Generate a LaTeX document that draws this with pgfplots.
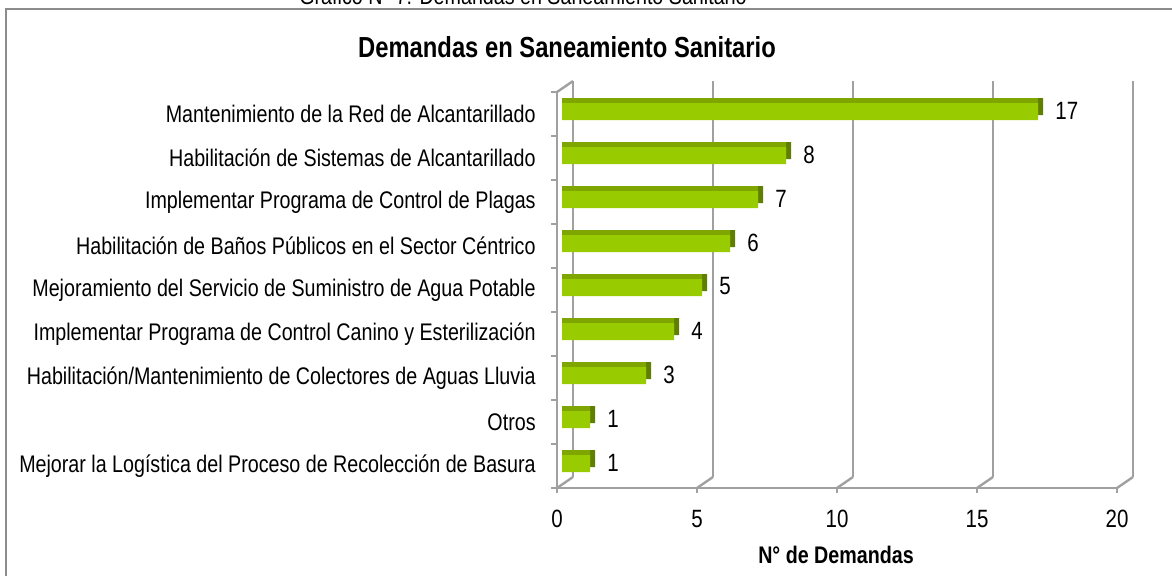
\documentclass[border=0pt]{standalone}
\usepackage{fontspec}
\setmainfont{Liberation Sans}[FakeStretch=0.82]
\usepackage{pgfplots}
\pgfplotsset{compat=1.18}
\definecolor{barfront}{HTML}{99CC00}
\definecolor{bartop}{HTML}{7FA600}
\definecolor{barside}{HTML}{5F7F00}
\definecolor{gridc}{HTML}{A0A0A0}
\definecolor{framec}{HTML}{8C8C8C}
\begin{document}
\begin{tikzpicture}
\useasboundingbox (0,0) rectangle (586pt,287.5pt);
\draw[framec, line width=1pt] (3pt,-20pt) -- (3pt,283pt) -- (600pt,283pt);
\node[anchor=base, inner sep=0pt, font=\fontsize{12}{14}\selectfont] at (261.5pt,285.5pt) {Gráfico N° 7: Demandas en Saneamiento Sanitario};
\node[anchor=base, inner sep=0pt, font=\bfseries\fontsize{14.5}{16}\selectfont] at (283.5pt,259pt) {Demandas en Saneamiento Sanitario};
\node[inner sep=0pt, font=\bfseries\fontsize{12}{14}\selectfont] at (418pt,10pt) {N° de Demandas};
\begin{axis}[
 at={(278.5pt,43.5pt)}, anchor=south west,
 scale only axis, width=280pt, height=198pt,
 xmin=0, xmax=20, ymin=-0.5, ymax=8.5,
 axis line style={draw=none},
 major tick length=0pt,
 xtick={0,5,10,15,20},
 ytick={0,1,2,3,4,5,6,7,8},
 yticklabels={Mejorar la Logística del Proceso de Recolección de Basura, Otros, Habilitación/Mantenimiento de Colectores de Aguas Lluvia, Implementar Programa de Control Canino y Esterilización, Mejoramiento del Servicio de Suministro de Agua Potable, Habilitación de Baños Públicos en el Sector Céntrico, Implementar Programa de Control de Plagas, Habilitación de Sistemas de Alcantarillado, Mantenimiento de la Red de Alcantarillado},
 xticklabel style={inner sep=0pt, anchor=north, yshift=-11pt, font=\fontsize{12.5}{14}\selectfont},
 yticklabel style={inner sep=0pt, anchor=east, xshift=-10.5pt, font=\fontsize{12}{14}\selectfont},
 /pgf/number format/assume math mode=true,
 bar width=8.5pt,
 clip=false,
]
% back gridlines and walls
\draw[gridc, line width=1.2pt] ([shift={(8pt,5.5pt)}]axis cs:0,-0.5) -- ([shift={(8pt,5.5pt)}]axis cs:0,8.5);
\draw[gridc, line width=1.2pt] ([shift={(8pt,5.5pt)}]axis cs:5,-0.5) -- ([shift={(8pt,5.5pt)}]axis cs:5,8.5);
\draw[gridc, line width=1.2pt] ([shift={(8pt,5.5pt)}]axis cs:10,-0.5) -- ([shift={(8pt,5.5pt)}]axis cs:10,8.5);
\draw[gridc, line width=1.2pt] ([shift={(8pt,5.5pt)}]axis cs:15,-0.5) -- ([shift={(8pt,5.5pt)}]axis cs:15,8.5);
\draw[gridc, line width=1.2pt] ([shift={(8pt,5.5pt)}]axis cs:20,-0.5) -- ([shift={(8pt,5.5pt)}]axis cs:20,8.5);
\draw[gridc, line width=1.2pt] (axis cs:0,-0.5) -- ([shift={(8pt,5.5pt)}]axis cs:0,-0.5);
\draw[gridc, line width=1.2pt] (axis cs:5,-0.5) -- ([shift={(8pt,5.5pt)}]axis cs:5,-0.5);
\draw[gridc, line width=1.2pt] (axis cs:10,-0.5) -- ([shift={(8pt,5.5pt)}]axis cs:10,-0.5);
\draw[gridc, line width=1.2pt] (axis cs:15,-0.5) -- ([shift={(8pt,5.5pt)}]axis cs:15,-0.5);
\draw[gridc, line width=1.2pt] (axis cs:20,-0.5) -- ([shift={(8pt,5.5pt)}]axis cs:20,-0.5);
\draw[gridc, line width=1.2pt] (axis cs:0,8.5) -- ([shift={(8pt,5.5pt)}]axis cs:0,8.5);
% bars: side, top, front
\addplot[xbar, fill=barside, draw=none, xshift=5pt, yshift=3.75pt] coordinates {(1,0) (1,1) (3,2) (4,3) (5,4) (6,5) (7,6) (8,7) (17,8)};
\addplot[xbar, fill=bartop, draw=none, xshift=2.5pt, yshift=3.75pt] coordinates {(1,0) (1,1) (3,2) (4,3) (5,4) (6,5) (7,6) (8,7) (17,8)};
\addplot[xbar, fill=barfront, draw=none, xshift=2.5pt, yshift=1.25pt,
 nodes near coords, nodes near coords style={anchor=west, inner sep=0pt, xshift=8.5pt, yshift=0.5pt, font=\fontsize{12.5}{14}\selectfont, black}] coordinates {(1,0) (1,1) (3,2) (4,3) (5,4) (6,5) (7,6) (8,7) (17,8)};
% front axes
\draw[gridc, line width=1.2pt] (axis cs:0,-0.5) -- (axis cs:0,8.5);
\draw[gridc, line width=1.2pt] (axis cs:0,-0.5) -- (axis cs:20,-0.5);
\draw[gridc, line width=1pt] (axis cs:0,-0.5) -- ++(-3pt,0pt);
\draw[gridc, line width=1pt] (axis cs:0,0.5) -- ++(-3pt,0pt);
\draw[gridc, line width=1pt] (axis cs:0,1.5) -- ++(-3pt,0pt);
\draw[gridc, line width=1pt] (axis cs:0,2.5) -- ++(-3pt,0pt);
\draw[gridc, line width=1pt] (axis cs:0,3.5) -- ++(-3pt,0pt);
\draw[gridc, line width=1pt] (axis cs:0,4.5) -- ++(-3pt,0pt);
\draw[gridc, line width=1pt] (axis cs:0,5.5) -- ++(-3pt,0pt);
\draw[gridc, line width=1pt] (axis cs:0,6.5) -- ++(-3pt,0pt);
\draw[gridc, line width=1pt] (axis cs:0,7.5) -- ++(-3pt,0pt);
\draw[gridc, line width=1pt] (axis cs:0,8.5) -- ++(-3pt,0pt);
\draw[gridc, line width=1pt] (axis cs:0,-0.5) -- ++(0pt,-2.5pt);
\draw[gridc, line width=1pt] (axis cs:5,-0.5) -- ++(0pt,-2.5pt);
\draw[gridc, line width=1pt] (axis cs:10,-0.5) -- ++(0pt,-2.5pt);
\draw[gridc, line width=1pt] (axis cs:15,-0.5) -- ++(0pt,-2.5pt);
\draw[gridc, line width=1pt] (axis cs:20,-0.5) -- ++(0pt,-2.5pt);
\end{axis}
\end{tikzpicture}
\end{document}
